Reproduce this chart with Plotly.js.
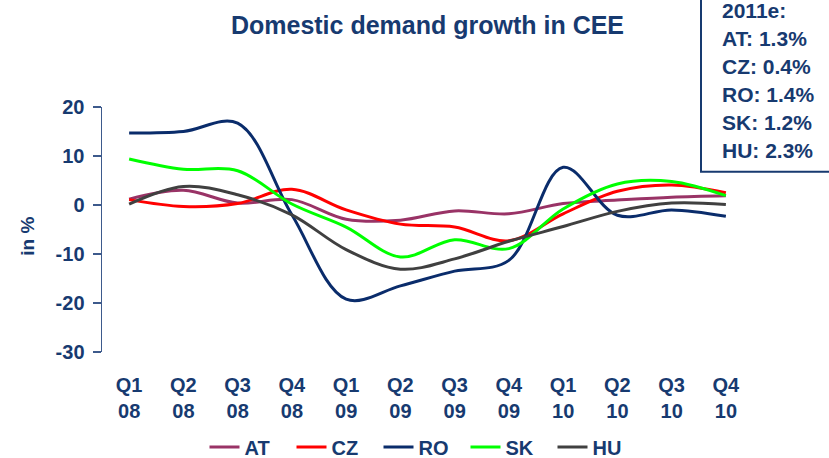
<!DOCTYPE html>
<html>
<head>
<meta charset="utf-8">
<script src="https://cdn.plot.ly/plotly-3.0.1.min.js"></script>
<style>html,body{margin:0;padding:0;background:#fff;}#chart{width:829px;height:458px;}</style>
</head>
<body>
<div id="chart"></div>
<script>
const categories = ['Q1<br>08','Q2<br>08','Q3<br>08','Q4<br>08','Q1<br>09','Q2<br>09','Q3<br>09','Q4<br>09','Q1<br>10','Q2<br>10','Q3<br>10','Q4<br>10'];
const AT = [1.2, 3.0, 0.4, 1.1, -2.9, -3.1, -1.2, -1.8, 0.3, 1.0, 1.6, 1.9];
const CZ = [1.1, -0.3, 0.3, 3.2, -1.0, -3.9, -4.5, -7.3, -1.8, 2.8, 4.1, 2.5];
const RO = [14.7, 15.0, 16.7, -2.0, -19.2, -16.5, -13.5, -11.3, 7.7, -2.1, -1.0, -2.3];
const SK = [9.4, 7.3, 7.0, 0.2, -4.5, -10.6, -7.1, -8.9, -0.8, 4.3, 4.8, 1.9];
const HU = [0.2, 3.8, 2.1, -2.0, -9.1, -13.1, -11.0, -7.4, -4.4, -1.3, 0.4, 0.1];
const seriesNames = ['AT','CZ','RO','SK','HU'];
const seriesColors = ['#993366','#ff0000','#0a2c6b','#00ff00','#404040'];
const yTickVals = [-30, -20, -10, 0, 10, 20];
const yTickText = ['-30', '-20', '-10', '0', '10', '20'];
const estimateLines = ['2011e:','AT: 1.3%','CZ: 0.4%','RO: 1.4%','SK: 1.2%','HU: 2.3%'];

const navy = '#173a70';
const axisCol = '#3d5a8c';
const fam = 'Liberation Sans, Arial, sans-serif';
const allSeries = [AT, CZ, RO, SK, HU];

const traces = allSeries.map((vals, i) => ({
  type: 'scatter', mode: 'lines', name: seriesNames[i],
  x: categories, y: vals,
  line: {color: seriesColors[i], width: 3, shape: 'spline', smoothing: 1},
  hoverinfo: 'skip'
}));

const plotL = 102, plotR = 753, plotT = 107.3, plotB = 352.3;
const pw = plotR - plotL, ph = plotB - plotT;
const px = v => (v - plotL) / pw;
const py = v => (plotB - v) / ph;

const annotations = estimateLines.map((t, i) => ({
  xref: 'paper', yref: 'paper', x: px(720), y: py(11 + i * 27.9),
  xanchor: 'left', yanchor: 'middle', showarrow: false, text: t,
  font: {family: fam, size: 21, color: navy, weight: 'bold'}
}));
annotations.push({
  xref: 'paper', yref: 'paper', x: px(28), y: py(237), textangle: -90,
  xanchor: 'center', yanchor: 'middle', showarrow: false, text: 'in %',
  font: {family: fam, size: 19, color: navy, weight: 'bold'}
});

const layout = {
  width: 829, height: 458,
  margin: {l: plotL, r: 829 - plotR, t: plotT, b: 458 - plotB},
  paper_bgcolor: '#fff', plot_bgcolor: '#fff',
  showlegend: true,
  title: {text: 'Domestic demand growth in CEE', xref: 'paper', x: 0.5, xanchor: 'center',
          yref: 'container', y: 1 - 25/458, yanchor: 'middle', automargin: false,
          font: {family: fam, size: 25, color: navy, weight: 'bold'}},
  xaxis: {type: 'category', range: [-0.5, 11.5], showline: false, showgrid: false, zeroline: false, automargin: false,
          ticks: '', tickfont: {family: fam, size: 20, color: navy, weight: 'bold'}, ticklabelstandoff: 19},
  xaxis2: {overlaying: 'x', anchor: 'free', position: 0.6, range: [-0.5, 11.5], tickmode: 'linear', tick0: -0.5, dtick: 1,
           ticks: 'outside', ticklen: 7, tickwidth: 1.5, tickcolor: axisCol, showline: true, linecolor: axisCol, linewidth: 1.5,
           showticklabels: false, showgrid: false, zeroline: false, automargin: false},
  xaxis3: {overlaying: 'x', anchor: 'free', position: 0.6, range: [-0.5, 11.5], tickmode: 'linear', tick0: -0.5, dtick: 1,
           ticks: 'inside', ticklen: 7, tickwidth: 1.5, tickcolor: axisCol, showline: false,
           showticklabels: false, showgrid: false, zeroline: false, automargin: false},
  yaxis: {range: [-30, 20], tickmode: 'array', tickvals: yTickVals, ticktext: yTickText, showgrid: false, zeroline: false,
          automargin: false,
          showline: true, linecolor: axisCol, linewidth: 1.5, ticks: 'outside', ticklen: 8, tickwidth: 1.5, tickcolor: axisCol,
          tickfont: {family: fam, size: 20, color: navy, weight: 'bold'}, ticklabelstandoff: 4},
  yaxis2: {overlaying: 'y', anchor: 'x', side: 'left', range: [-30, 20], tickmode: 'array', tickvals: yTickVals,
           showgrid: false, zeroline: false, showline: false, ticks: 'inside', ticklen: 8, tickwidth: 1.5, tickcolor: axisCol,
           showticklabels: false, automargin: false},
  legend: {orientation: 'h', xref: 'container', x: 422/829, xanchor: 'center', yref: 'container', y: 1 - 447/458, yanchor: 'middle',
           font: {family: fam, size: 20, color: navy, weight: 'bold'}, itemwidth: 30, entrywidth: 42, entrywidthmode: 'pixels'},
  shapes: [{type: 'rect', xref: 'paper', yref: 'paper', x0: px(701), x1: px(840), y0: py(172), y1: py(-10),
            line: {color: navy, width: 2}, fillcolor: '#fff', layer: 'above'}],
  annotations: annotations
};

Plotly.newPlot('chart', traces, layout, {staticPlot: true, displayModeBar: false});
</script>
</body>
</html>
